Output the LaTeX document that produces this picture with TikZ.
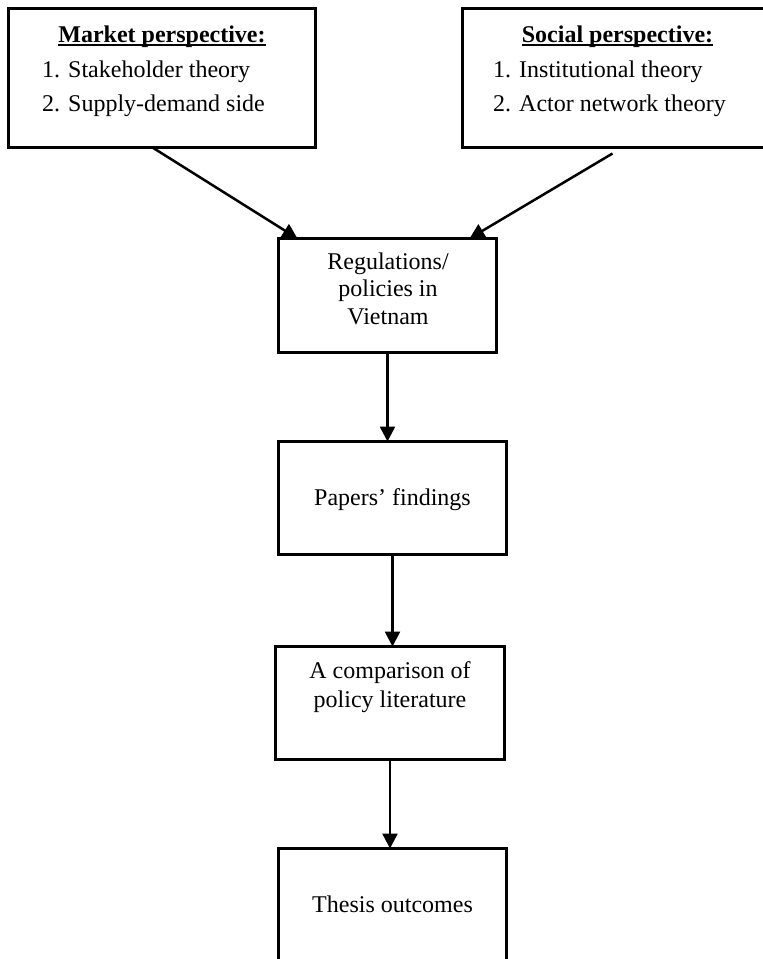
\documentclass[tikz,border=0pt]{standalone}
\usepackage{fontspec}
\setmainfont{Liberation Serif}
\usetikzlibrary{arrows.meta,calc}
\newcommand{\myul}[1]{\setbox0\hbox{#1}\rlap{\rule[-3.5pt]{\wd0}{1.8pt}}\box0}
\begin{document}
\begin{tikzpicture}[x=1pt,y=-1pt,
  box/.style={draw, line width=2.8pt, inner sep=0pt, outer sep=0pt, anchor=north west},
  arr/.style={line width=2.5pt, -{Triangle[length=15pt,width=15pt]}},
  txt/.style={inner sep=0pt, font=\fontsize{24}{27.5}\selectfont},
  head/.style={inner sep=0pt, anchor=base, font=\bfseries\fontsize{24}{27.5}\selectfont},
  list/.style={inner sep=0pt, anchor=base west, align=left, font=\fontsize{24}{33.5}\selectfont}]
\useasboundingbox (0,0) rectangle (763,959);
\clip (0,0) rectangle (763,959);
\fill[white] (0,0) rectangle (763,959);

% boxes
\node[box, minimum width=307pt, minimum height=139pt] (mkt) at (8.5,8.5) {};
\node[box, minimum width=320pt, minimum height=139pt] (soc) at (462.5,8.5) {};
\node[box, minimum width=218pt, minimum height=114pt] (reg) at (278.5,238.5) {};
\node[box, minimum width=228pt, minimum height=113pt] (pap) at (278.5,441.5) {};
\node[box, minimum width=229pt, minimum height=113pt] (cmp) at (275.5,646.5) {};
\node[box, minimum width=228pt, minimum height=140pt] (ths) at (278.5,848.5) {};

% texts (base anchor of a multi-line node = baseline of its last line)
\node[head] (mktt) at (162,42) {\myul{Market perspective:}};
\node[list] (mktl) at (42,111) {1. Stakeholder theory\\2. Supply-demand side};
\node[head] (soct) at (617.5,42) {\myul{Social perspective:}};
\node[list] (socl) at (493,111) {1. Institutional theory\\2. Actor network theory};
\node[txt, align=center, anchor=base] (regt) at (388,324) {Regulations/\\policies in\\Vietnam};
\node[txt, anchor=base] (papt) at (392.5,505) {Papers’ findings};
\node[txt, align=center, anchor=base, font=\fontsize{24}{29}\selectfont] (cmpt) at (390,707) {A comparison of\\policy literature};
\node[txt, anchor=base] (thst) at (392.5,912.5) {Thesis outcomes};

% connectors
\draw[arr] ($(mkt.south west)+(144,0)$) -- ($(reg.north west)+(19,0)$);
\draw[arr] ($(soc.south west)+(150,6)$) -- ($(reg.north west)+(191,0)$);
\draw[arr] (reg.south) -- (reg.south |- pap.north);
\draw[arr] (pap.south) -- (pap.south |- cmp.north);
\draw[arr] (cmp.south) -- (cmp.south |- ths.north);
\end{tikzpicture}
\end{document}
